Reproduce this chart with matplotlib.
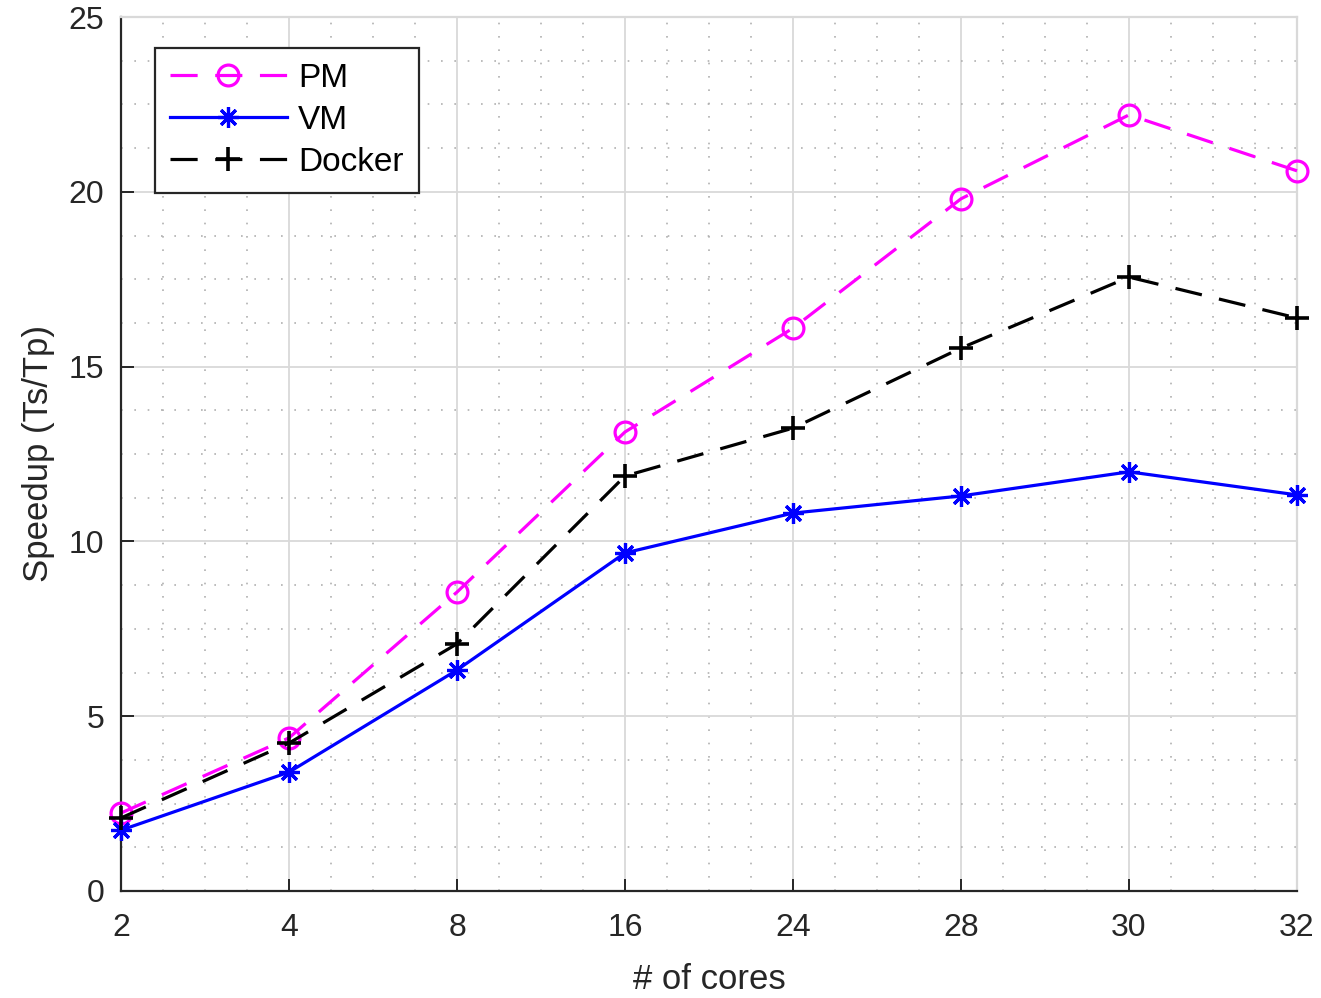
import matplotlib
matplotlib.use("Agg")
import matplotlib.pyplot as plt
from matplotlib.ticker import MultipleLocator

cores = ["2", "4", "8", "16", "24", "28", "30", "32"]
pm = [2.23, 4.38, 8.55, 13.13, 16.1, 19.8, 22.2, 20.6]
vm = [1.74, 3.40, 6.32, 9.67, 10.81, 11.30, 11.99, 11.33]
docker = [2.09, 4.23, 7.07, 11.87, 13.24, 15.53, 17.56, 16.39]

plt.rcParams['font.family'] = ['Liberation Sans', 'DejaVu Sans']

fig = plt.figure(figsize=(13.21, 9.98), dpi=100)
ax = fig.add_axes([121/1321, 107/998, (1297-121)/1321, (891-17)/998])

x = list(range(len(cores)))
lw = 2.3
ax.plot(x, pm, color='#ff00ff', lw=lw, dashes=(8.5, 5.5), marker='o',
        markersize=15, markerfacecolor='none', markeredgewidth=2.3, label='PM',
        zorder=3, clip_on=False)
ax.plot(x, vm, color='#0000ff', lw=lw, marker=(8, 2, 0),
        markersize=15, markeredgewidth=2.3, label='VM', zorder=4, clip_on=False)
ax.plot(x, docker, color='black', lw=lw, dashes=(8.5, 5.5), marker='+',
        markersize=17, markeredgewidth=2.6, label='Docker', zorder=5, clip_on=False)

ax.set_xlim(0, len(cores) - 1)
ax.set_ylim(0, 25)
ax.set_xticks(x)
ax.set_xticklabels(cores)
ax.set_yticks([0, 5, 10, 15, 20, 25])
ax.xaxis.set_minor_locator(MultipleLocator(0.25))
ax.yaxis.set_minor_locator(MultipleLocator(1.25))

ax.grid(which='major', color='#d9d9d9', lw=1.3, linestyle='-')
ax.grid(which='minor', color='#b0b0b0', lw=1.2, linestyle=(0, (1, 7)))
ax.set_axisbelow(True)

ax.tick_params(which='major', direction='in', length=9, width=1.4, labelsize=23,
               colors='#262626')
ax.tick_params(axis='x', which='major', pad=16)
ax.tick_params(axis='y', which='major', pad=12)
ax.tick_params(which='minor', length=0)
for s in ['left', 'bottom']:
    ax.spines[s].set_color('#262626')
    ax.spines[s].set_linewidth(1.6)
for s in ['top', 'right']:
    ax.spines[s].set_color('#d9d9d9')
    ax.spines[s].set_linewidth(1.6)

ax.set_xlabel('# of cores', fontsize=25, color='#262626', labelpad=14)
ax.set_ylabel('Speedup (Ts/Tp)', fontsize=25, color='#262626', labelpad=10)

leg = ax.legend(loc='upper left', bbox_to_anchor=(34/1176, 1 - 31/874), fontsize=24,
                frameon=True, fancybox=False, edgecolor='#262626', framealpha=1,
                handlelength=3.5, borderpad=0.45, labelspacing=0.33, handletextpad=0.35,
                borderaxespad=0)
leg.get_frame().set_linewidth(1.6)

fig.savefig('out.png', dpi=100)
